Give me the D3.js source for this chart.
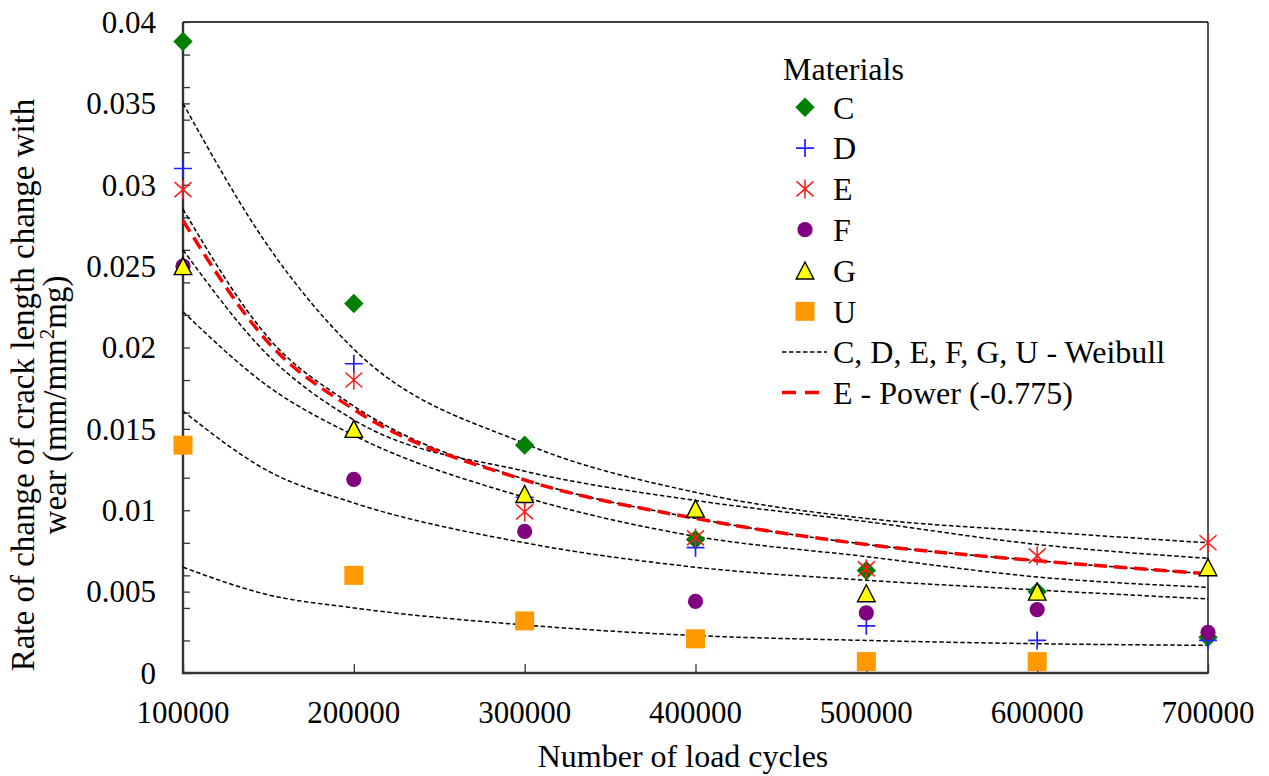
<!DOCTYPE html>
<html>
<head>
<meta charset="utf-8">
<script src="https://cdn.jsdelivr.net/npm/d3@7"></script>
<style>
  body { margin: 0; background: #fff; }
  svg text { font-family: "Liberation Serif", "Times New Roman", serif !important; fill: #000; }
</style>
</head>
<body>
<svg id="chart" width="1269" height="776" font-family="Liberation Serif"></svg>
<script>
// ---------------- data ----------------
const cycles = [100000, 200000, 300000, 400000, 500000, 600000, 700000];
const seriesC = [0.0388, 0.0227, 0.0140, 0.0082, 0.0063, 0.0050, 0.0022];
const seriesD = [0.0310, 0.0190, 0.0108, 0.0077, 0.0029, 0.0020, 0.0020];
const seriesE = [0.0297, 0.0180, 0.0099, 0.0083, 0.0064, 0.0072, 0.0080];
const seriesF = [0.0250, 0.0119, 0.0087, 0.0044, 0.0037, 0.0039, 0.0025];
const seriesG = [0.0250, 0.0150, 0.0110, 0.0101, 0.0049, 0.0050, 0.0065];
const seriesU = [0.0140, 0.0060, 0.0032, 0.0021, 0.0007, 0.0007];

// fitted curves
const curveCycles = [100000, 150000, 200000, 300000, 400000, 500000, 600000, 700000];
const weibull1 = [0.0350, 0.0262, 0.0199, 0.0141, 0.0111, 0.0095, 0.0087, 0.0080];
const weibull2 = [0.0285, 0.0206, 0.0164, 0.0119, 0.0095, 0.0079, 0.0069, 0.0061];
const weibull3 = [0.0260, 0.0195, 0.01555, 0.0124, 0.0106, 0.0093, 0.0079, 0.00705];
const weibull4 = [0.0222, 0.0176, 0.0146, 0.0108, 0.0084, 0.00715, 0.0059, 0.00527];
const weibull5 = [0.0161, 0.0124, 0.01045, 0.0080, 0.0065, 0.0057, 0.0051, 0.00455];
const weibullU = [0.0065, 0.0048, 0.0040, 0.00295, 0.0023, 0.0020, 0.0018, 0.0017];
const powerE   = [0.0278, 0.0203, 0.0162, 0.01186, 0.0095, 0.0079, 0.0069, 0.0061];

const xTicks = [100000, 200000, 300000, 400000, 500000, 600000, 700000];
const yTickLabels = [0, 0.005, 0.01, 0.015, 0.02, 0.025, 0.03, 0.035, 0.04];
const yMinorTicks = [0.002, 0.004, 0.006, 0.008, 0.012, 0.014, 0.016, 0.018, 0.022, 0.024, 0.026, 0.028, 0.032, 0.034, 0.036, 0.038];

const legendNames = ["C", "D", "E", "F", "G", "U"];
const weibullLabel = "C, D, E, F, G, U - Weibull";
const powerLabel = "E - Power (-0.775)";

// ---------------- layout ----------------
const svg = d3.select("#chart");
const L = 183, R = 1208, T = 22, B = 673;
const x = d3.scaleLinear().domain([100000, 700000]).range([L, R]);
const y = d3.scaleLinear().domain([0, 0.04]).range([B, T]);
const FS = 31, LFS = 32;
const FF = "Liberation Serif, Times New Roman, serif";

// frame (top / right)
svg.append("line").attr("x1", L).attr("x2", R).attr("y1", T).attr("y2", T).attr("stroke", "#000").attr("stroke-width", 1.3);
svg.append("line").attr("x1", R).attr("x2", R).attr("y1", T).attr("y2", B).attr("stroke", "#000").attr("stroke-width", 1.3);

// axes
const yAxis = d3.axisRight(y).tickValues(yTickLabels.concat(yMinorTicks)).tickSize(7).tickFormat("");
const gy = svg.append("g").attr("transform", `translate(${L},0)`).call(yAxis);
gy.select(".domain").remove();
gy.selectAll(".tick line").attr("stroke", "#333").attr("stroke-width", 1.3);

const xAxis = d3.axisTop(x).tickValues(xTicks).tickSize(9).tickFormat("");
const gx = svg.append("g").attr("transform", `translate(0,${B})`).call(xAxis);
gx.select(".domain").remove();
gx.selectAll(".tick line").attr("stroke", "#333").attr("stroke-width", 1.3);

svg.append("line").attr("x1", L).attr("x2", L).attr("y1", T).attr("y2", B + 1).attr("stroke", "#333").attr("stroke-width", 2.4);
svg.append("line").attr("x1", L - 1).attr("x2", R + 0.6).attr("y1", B).attr("y2", B).attr("stroke", "#333").attr("stroke-width", 2.4);

// tick labels
svg.append("g").selectAll("text").data(yTickLabels).join("text")
  .attr("font-family", FF)
  .attr("x", 156).attr("y", d => y(d)).attr("dy", "0.35em")
  .attr("text-anchor", "end").attr("font-size", FS)
  .text(d => d === 0 ? "0" : String(d));

svg.append("g").selectAll("text").data(xTicks).join("text")
  .attr("font-family", FF)
  .attr("x", d => x(d)).attr("y", 723)
  .attr("text-anchor", "middle").attr("font-size", FS)
  .text(d => String(d));

// axis titles
svg.append("text").attr("font-family", FF).attr("x", 683).attr("y", 767).attr("text-anchor", "middle").attr("font-size", 32)
  .text("Number of load cycles");
svg.append("text").attr("font-family", FF).attr("transform", "translate(34,385) rotate(-90)").attr("text-anchor", "middle").attr("font-size", 33)
  .text("Rate of change of crack length change with");
const t2 = svg.append("text").attr("font-family", FF).attr("transform", "translate(66,405) rotate(-90)").attr("text-anchor", "middle").attr("font-size", 33);
t2.append("tspan").text("wear (mm/mm");
t2.append("tspan").attr("font-size", 21).attr("dy", -12).text("2");
t2.append("tspan").attr("dy", 12).text("mg)");

// ---------------- curves ----------------
const line = d3.line().x((d, i) => x(curveCycles[i])).y(d => y(d)).curve(d3.curveMonotoneX);
[weibull1, weibull2, weibull3, weibull4, weibull5, weibullU].forEach(arr => {
  svg.append("path").attr("d", line(arr)).attr("fill", "none")
    .attr("stroke", "#000").attr("stroke-width", 1.5).attr("stroke-dasharray", "4.5,2.5");
});
svg.append("path").attr("d", line(powerE)).attr("fill", "none")
  .attr("stroke", "#ff0000").attr("stroke-width", 3.5).attr("stroke-dasharray", "13,7");

// ---------------- markers ----------------
function drawMarker(g, type) {
  if (type === "C") {
    g.append("path").attr("d", "M0,-9.7L9.7,0L0,9.7L-9.7,0Z").attr("fill", "#008000");
  } else if (type === "D") {
    g.append("path").attr("d", "M-9,0H9M0,-9V9").attr("stroke", "#2020ff").attr("stroke-width", 1.7).attr("fill", "none");
  } else if (type === "E") {
    g.append("path").attr("d", "M-8.5,-7.5L8.5,7.5M-8.5,7.5L8.5,-7.5M0,-9.5V9.5").attr("stroke", "#ff1a1a").attr("stroke-width", 1.5).attr("fill", "none");
  } else if (type === "F") {
    g.append("circle").attr("r", 7.6).attr("fill", "#800080");
  } else if (type === "G") {
    g.append("path").attr("d", "M0,-8.5L8.8,8.5L-8.8,8.5Z").attr("fill", "#ffff00").attr("stroke", "#000").attr("stroke-width", 1.4);
  } else if (type === "U") {
    g.append("rect").attr("x", -9.5).attr("y", -9.5).attr("width", 19).attr("height", 19).attr("fill", "#ff9900");
  }
}

const allSeries = [["C", seriesC], ["D", seriesD], ["E", seriesE], ["F", seriesF], ["G", seriesG], ["U", seriesU]];
allSeries.forEach(([name, vals]) => {
  const g = svg.append("g");
  vals.forEach((v, i) => {
    const m = g.append("g").attr("transform", `translate(${x(cycles[i])},${y(v)})`);
    drawMarker(m, name);
  });
});

// ---------------- legend ----------------
const lg = svg.append("g");
lg.append("text").attr("font-family", FF).attr("x", 783).attr("y", 79.5).attr("font-size", LFS).text("Materials");
legendNames.forEach((n, i) => {
  const cy = 107.3 + i * 40.8;
  drawMarker(lg.append("g").attr("transform", `translate(805,${cy})`), n);
  lg.append("text").attr("font-family", FF).attr("x", 833).attr("y", cy).attr("dy", "0.35em").attr("font-size", LFS).text(n);
});
lg.append("line").attr("x1", 782).attr("x2", 827).attr("y1", 352).attr("y2", 352)
  .attr("stroke", "#000").attr("stroke-width", 1.5).attr("stroke-dasharray", "4.5,2.5");
lg.append("text").attr("font-family", FF).attr("x", 833).attr("y", 352).attr("dy", "0.35em").attr("font-size", LFS).text(weibullLabel);
lg.append("line").attr("x1", 782).attr("x2", 819).attr("y1", 392.5).attr("y2", 392.5)
  .attr("stroke", "#ff0000").attr("stroke-width", 3.5).attr("stroke-dasharray", "14,9");
lg.append("text").attr("font-family", FF).attr("x", 833).attr("y", 392.5).attr("dy", "0.35em").attr("font-size", LFS).text(powerLabel);
</script>
</body>
</html>
